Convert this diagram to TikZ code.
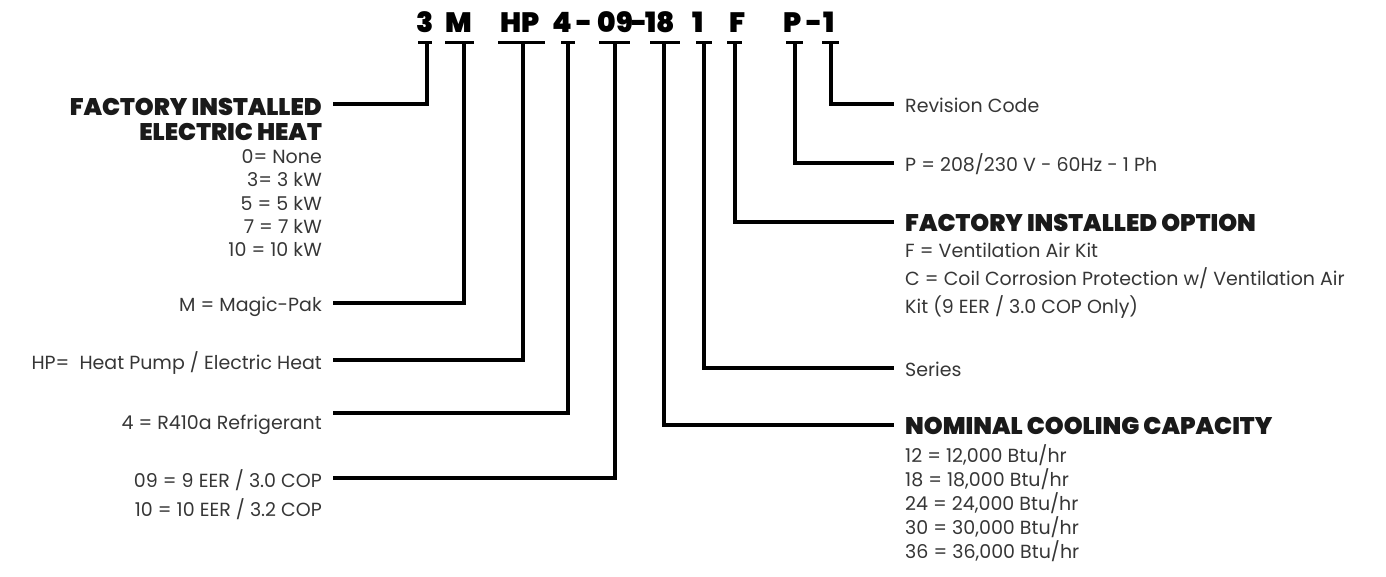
\documentclass[tikz,border=0pt]{standalone}
\usepackage{fontspec}
\setmainfont{Poppins}
\newfontfamily\heavyfont{Poppins Black}
\definecolor{txtgray}{HTML}{363636}
\definecolor{headblack}{HTML}{1A1A1A}
\tikzset{
  lead/.style={line width=4pt},
  bar/.style={line width=3pt},
  item/.style={inner sep=0pt, text=txtgray, font=\fontsize{19}{22}\selectfont},
  head/.style={inner sep=0pt, text=headblack, font=\fontsize{24}{28}\heavyfont},
  code/.style={inner sep=0pt, anchor=base, font=\fontsize{28}{30}\heavyfont},
}
\begin{document}
\begin{tikzpicture}[x=1pt,y=-1pt]
  \useasboundingbox (0,0) rectangle (1386,576);
  % model number
  \foreach \t/\x [count=\i] in {3/425, M/459, HP/520.5, 4/562.5, -/585, 09/615.5, -/639.5, 18/660.5, 1/698, F/738, P/792.5, -/814.5, 1/829}
  \node[code] (c\i) at (\x,32) {\t};
  % ticks under the digits
  \foreach \n/\x/\l/\r in {heat/427/418/432, pak/464/445/474, hp/523/498/545, ref/568/561/575, eer/615/599/630, cap/664/650/680, ser/704/696/712, opt/735/727/742, volt/795/786/803, rev/831/822/839}{
    \coordinate (t\n) at (\x,42);
    \draw[bar] (\l,42) -- (\r,42);
  }
  % left side
  \node[head, anchor=base east] (heat) at (322,115) {FACTORY INSTALLED};
  \node[head, anchor=base east] (heat2) at (322,140) {ELECTRIC HEAT};
  \foreach \t [count=\i] in {0= None, 3= 3 kW, 5 = 5 kW, 7 = 7 kW, 10 = 10 kW}
  \node[item, anchor=base east] (kw\i) at (322,{163.5+23.3*(\i-1)}) {\t};
  \node[item, anchor=base east] (pak) at (322,311.5) {M = Magic-Pak};
  \node[item, anchor=base east] (hp) at (322,369.5) {HP=\ \ Heat Pump / Electric Heat};
  \node[item, anchor=base east] (ref) at (322,429.5) {4 = R410a Refrigerant};
  \node[item, anchor=base east] (eer) at (322,487.5) {09 = 9 EER / 3.0 COP};
  \node[item, anchor=base east] (eer2) at (322,516.5) {10 = 10 EER / 3.2 COP};
  % right side
  \node[item, anchor=base west] (rev) at (905,112.5) {Revision Code};
  \node[item, anchor=base west] (volt) at (905,171.5) {P = 208/230 V - 60Hz - 1 Ph};
  \node[head, anchor=base west] (opt) at (905,231) {FACTORY INSTALLED OPTION};
  \foreach \t [count=\i] in {F = Ventilation Air Kit, C = Coil Corrosion Protection w/ Ventilation Air, Kit (9 EER / 3.0 COP Only)}
  \node[item, anchor=base west] (opt\i) at (905,{257.5+28*(\i-1)}) {\t};
  \node[item, anchor=base west] (ser) at (905,376) {Series};
  \node[head, anchor=base west] (cap) at (905,434.5) {NOMINAL COOLING CAPACITY};
  \foreach \t [count=\i] in {{12 = 12,000 Btu/hr}, {18 = 18,000 Btu/hr}, {24 = 24,000 Btu/hr}, {30 = 30,000 Btu/hr}, {36 = 36,000 Btu/hr}}
  \node[item, anchor=base west] (btu\i) at (905,{462.5+24*(\i-1)}) {\t};
  % leads
  \foreach \n/\y in {heat/104, pak/303, hp/360, ref/413, eer/478}{
    \coordinate (e\n) at (333,\y);
    \draw[lead] (t\n) |- (e\n);
  }
  \foreach \n/\y in {rev/104, volt/163, opt/222, ser/368, cap/425}{
    \coordinate (e\n) at (894,\y);
    \draw[lead] (t\n) |- (e\n);
  }
\end{tikzpicture}
\end{document}
